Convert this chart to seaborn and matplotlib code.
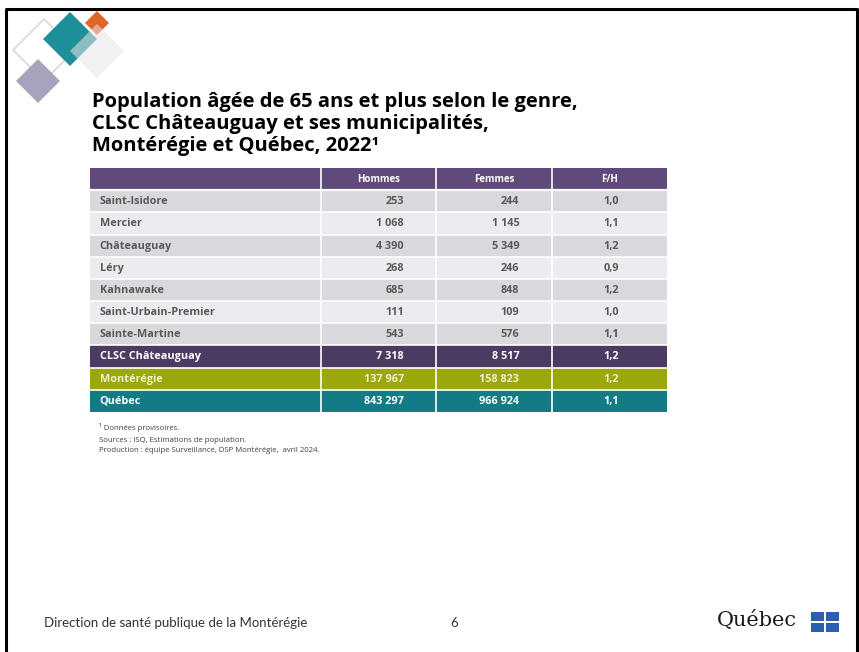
import numpy as np
import matplotlib
matplotlib.use("Agg")
import matplotlib.pyplot as plt
from matplotlib.colors import ListedColormap
from matplotlib.patches import Polygon, Rectangle
import seaborn as sns

# data
territoires = ['Saint-Isidore', 'Mercier', 'Châteauguay', 'Léry', 'Kahnawake',
               'Saint-Urbain-Premier', 'Sainte-Martine', 'CLSC Châteauguay',
               'Montérégie', 'Québec']
hommes = [253, 1068, 4390, 268, 685, 111, 543, 7318, 137967, 843297]
femmes = [244, 1145, 5349, 246, 848, 109, 576, 8517, 158823, 966924]
ratio_fh = [1.0, 1.1, 1.2, 0.9, 1.2, 1.0, 1.1, 1.2, 1.2, 1.1]
entetes = ['', 'Hommes', 'Femmes', 'F/H']
# row style: 0 header, 1 grey, 2 light grey, 3 CLSC, 4 Montérégie, 5 Québec
styles = [1, 2, 1, 2, 1, 2, 1, 3, 4, 5]

couleurs = ['#604a7b', '#d9d9dd', '#ececf0', '#4b3b63', '#9ba70c', '#127b84']
txt_col = {1: '#595959', 2: '#595959', 3: 'white', 4: '#eef2c8', 5: 'white'}

sns.set_style('white')
plt.rcParams['font.family'] = ['Open Sans', 'DejaVu Sans']

fig = plt.figure(figsize=(8.59, 6.52), dpi=100)
W, H = 859, 652

# background canvas in pixel coords
bg = fig.add_axes([0, 0, 1, 1])
bg.set_xlim(0, W)
bg.set_ylim(H, 0)
bg.axis('off')

# slide frame
bg.plot([6, 6, 857, 857], [H, 8.5, 8.5, H], color='black', lw=2.2)

# logo diamonds
def diamond(cx, cy, r, **kw):
    bg.add_patch(Polygon([(cx, cy - r), (cx + r, cy), (cx, cy + r), (cx - r, cy)], **kw))

diamond(44, 50, 31, facecolor='none', edgecolor='#d0d0d0', lw=1)
diamond(38, 81, 22, facecolor='#a9a2bd', edgecolor='none')
diamond(70, 39, 27, facecolor='#1f8f99', edgecolor='none')
diamond(97, 23, 12, facecolor='#e0652b', edgecolor='none')
diamond(97, 51, 27, facecolor='#e6e6e6', edgecolor='none', alpha=0.55)

# title
title_kw = dict(fontsize=14.5, fontweight='bold', color='black',
                family=['Open Sans', 'DejaVu Sans'], va='baseline')
bg.text(92, 107, 'Population âgée de 65 ans et plus selon le genre,', **title_kw)
bg.text(92, 129, 'CLSC Châteauguay et ses municipalités,', **title_kw)
bg.text(92, 151, 'Montérégie et Québec, 2022¹', **title_kw)

# table as a seaborn heatmap of row styles
codes = np.array([[0] * 5] + [[s] * 5 for s in styles])
ax = fig.add_axes([90 / W, 1 - 412 / H, 577 / W, 244 / H])
sns.heatmap(codes, cmap=ListedColormap(couleurs), vmin=-0.5, vmax=5.5,
            cbar=False, xticklabels=False, yticklabels=False, ax=ax)
nrow = codes.shape[0]
for y in range(1, nrow):
    ax.axhline(y, color='white', lw=1.6 if y == 1 else 1.2)
for x in (2, 3, 4):
    ax.axvline(x, color='white', lw=1.2)

hdr_x = [None, 2.5, 3.5, 4.5]
for j, h in enumerate(entetes):
    if h:
        ax.text(hdr_x[j], 0.52, h, ha='center', va='center', color='white',
                fontsize=7, fontweight='bold')

def fmt_int(v):
    return f'{v:,}'.replace(',', ' ')

for i, nom in enumerate(territoires):
    y = i + 1.52
    c = txt_col[styles[i]]
    kw = dict(va='center', color=c, fontsize=7.8, fontweight='bold')
    ax.text(0.085, y, nom, ha='left', **kw)
    ax.text(2.72, y, fmt_int(hommes[i]), ha='right', **kw)
    ax.text(3.72, y, fmt_int(femmes[i]), ha='right', **kw)
    ax.text(4.52, y, f'{ratio_fh[i]:.1f}'.replace('.', ','), ha='center', **kw)

# footnotes
fn_kw = dict(fontsize=5.6, color='#404040', va='center')
bg.text(99, 427, '¹ Données provisoires.', **fn_kw)
bg.text(99, 441, 'Sources : ISQ, Estimations de population.', **fn_kw)
bg.text(99, 451, 'Production : équipe Surveillance, DSP Montérégie,  avril 2024.', **fn_kw)

# footer
bg.text(44, 627, 'Direction de santé publique de la Montérégie', fontsize=9.5,
        color='#333333', va='baseline', family=['Lato', 'DejaVu Sans'])
bg.text(450, 627, '6', fontsize=9.5, color='#333333', va='baseline',
        family=['Lato', 'DejaVu Sans'])
bg.text(717, 626, 'Québec', fontsize=15, color='#1a1a1a', va='baseline',
        family=['DejaVu Serif'])
for dx in (0, 15):
    for dy in (0, 11):
        bg.add_patch(Rectangle((811 + dx, 612 + dy), 13, 9, facecolor='#2b5fb4',
                               edgecolor='none'))

fig.savefig('out.png', dpi=100)
